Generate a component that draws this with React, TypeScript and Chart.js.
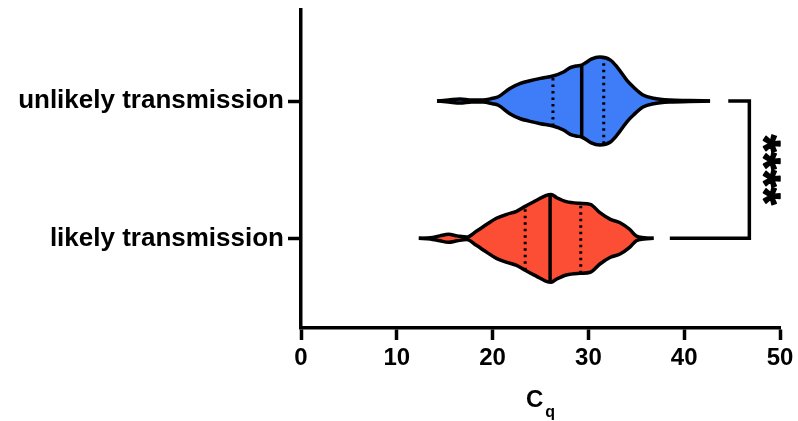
import React, { useEffect, useRef } from "react";
import { Chart, registerables } from "chart.js";

Chart.register(...registerables);

// ---------- data ----------
const categories = ["likely transmission", "unlikely transmission"];
const xTicks = [0, 10, 20, 30, 40, 50];

// violin outline: Cq positions and density half-widths (in category units)
const likelyCq = [12.3, 13.5, 14.5, 15.4, 16.3, 17.3, 18.3, 19.4, 20.4, 21.5, 22.5, 23.4, 24.6, 25.6, 26.1, 26.7, 27.7, 29.1, 30.2, 31.2, 32.3, 33.3, 34.3, 35.0, 35.8, 36.8];
const likelyHalfWidth = [0, 0.004, 0.018, 0.029, 0.018, 0.009, 0.051, 0.102, 0.146, 0.175, 0.197, 0.233, 0.277, 0.313, 0.32, 0.296, 0.267, 0.255, 0.247, 0.187, 0.138, 0.114, 0.066, 0.017, 0.005, 0];
const unlikelyCq = [14.2, 15.4, 16.6, 17.8, 19.0, 20.0, 20.6, 21.8, 22.9, 23.8, 25.0, 26.3, 27.4, 28.1, 28.7, 29.3, 29.8, 30.3, 31.2, 32.3, 33.0, 34.0, 34.7, 35.7, 36.8, 38.5, 40.5, 42.7];
const unlikelyHalfWidth = [0, 0.007, 0.015, 0.007, 0.007, 0.02, 0.031, 0.092, 0.129, 0.146, 0.165, 0.182, 0.211, 0.243, 0.255, 0.262, 0.282, 0.305, 0.32, 0.298, 0.247, 0.153, 0.102, 0.044, 0.02, 0.007, 0.004, 0];

// quartiles [Q1, median, Q3]
const likelyQuartiles = [23.4, 26.0, 29.2];
const unlikelyQuartiles = [26.3, 29.3, 31.6];

// significance bracket
const bracketX = 46.8;
const bracketTopStart = 44.6;
const bracketBottomStart = 38.5;
const significanceLabel = "****";
const significanceX = 49.1;

const colors = ["#fc4e34", "#3e7cf8"];
const FONT = '"Liberation Sans", Arial, Helvetica, sans-serif';
const LW = 3.5;

function halfAt(cq: number[], hw: number[], x: number): number {
  for (let i = 0; i < cq.length - 1; i++) {
    if (x >= cq[i] && x <= cq[i + 1]) {
      const t = (x - cq[i]) / (cq[i + 1] - cq[i]);
      return hw[i] + t * (hw[i + 1] - hw[i]);
    }
  }
  return 0;
}

function violinDatasets(center: number, cq: number[], hw: number[], quart: number[], color: string) {
  const base = {
    showLine: true,
    pointRadius: 0,
    pointHoverRadius: 0,
    borderColor: "#000",
    borderWidth: LW,
    borderJoinStyle: "round" as const,
    clip: false as const,
  };
  const sets: any[] = [
    {
      ...base,
      data: cq.map((x, i) => ({ x, y: center + hw[i] })),
      backgroundColor: color,
      fill: "+1",
      cubicInterpolationMode: "monotone",
    },
    {
      ...base,
      data: cq.map((x, i) => ({ x, y: center - hw[i] })),
      fill: false,
      cubicInterpolationMode: "monotone",
    },
  ];
  quart.forEach((q, k) => {
    const h = halfAt(cq, hw, q);
    sets.push({
      ...base,
      data: [
        { x: q, y: center - h },
        { x: q, y: center + h },
      ],
      fill: false,
      borderWidth: k === 1 ? LW : 3,
      borderDash: k === 1 ? [] : [2.5, 4],
      borderCapStyle: "butt",
    });
  });
  return sets;
}

const textPlugin = {
  id: "extraText",
  afterDraw(chart: any) {
    const { ctx, scales } = chart;
    const x = scales.x;
    const y = scales.y;
    ctx.save();
    ctx.fillStyle = "#000";
    ctx.strokeStyle = "#000";
    // significance stars (rotated)
    ctx.translate(x.getPixelForValue(significanceX), y.getPixelForValue(0.5));
    ctx.rotate(Math.PI / 2);
    ctx.font = `bold 45px ${FONT}`;
    ctx.textAlign = "center";
    ctx.textBaseline = "alphabetic";
    const m = ctx.measureText(significanceLabel);
    const off = (m.actualBoundingBoxAscent - m.actualBoundingBoxDescent) / 2;
    ctx.lineWidth = 1.5;
    ctx.lineJoin = "round";
    ctx.fillText(significanceLabel, 0, off);
    ctx.strokeText(significanceLabel, 0, off);
    ctx.restore();

    // axis title C_q
    ctx.save();
    ctx.fillStyle = "#000";
    ctx.textBaseline = "alphabetic";
    ctx.textAlign = "left";
    ctx.font = `bold 24px ${FONT}`;
    const wC = ctx.measureText("C").width;
    ctx.font = `bold 16px ${FONT}`;
    const wq = ctx.measureText("q").width;
    const cx = (x.left + x.right) / 2;
    const start = cx - (wC + 2 + wq) / 2;
    ctx.font = `bold 24px ${FONT}`;
    ctx.fillText("C", start, 407);
    ctx.font = `bold 16px ${FONT}`;
    ctx.fillText("q", start + wC + 2, 417);
    ctx.restore();
  },
};

export default function App() {
  const ref = useRef<HTMLCanvasElement | null>(null);

  useEffect(() => {
    document.body.style.margin = "0";
    const canvas = ref.current;
    if (!canvas) return;

    const datasets = [
      ...violinDatasets(0, likelyCq, likelyHalfWidth, likelyQuartiles, colors[0]),
      ...violinDatasets(1, unlikelyCq, unlikelyHalfWidth, unlikelyQuartiles, colors[1]),
      {
        showLine: true,
        pointRadius: 0,
        borderColor: "#000",
        borderWidth: LW,
        fill: false,
        clip: false,
        borderCapStyle: "butt",
        data: [
          { x: bracketBottomStart, y: 0 },
          { x: bracketX, y: 0 },
          { x: bracketX, y: 1 },
          { x: bracketTopStart, y: 1 },
        ],
      },
    ];

    const chart = new Chart(canvas, {
      type: "scatter",
      data: { datasets: datasets as any },
      options: {
        responsive: false,
        animation: false,
        devicePixelRatio: 1,
        layout: { padding: { top: 10, right: 18, left: 0, bottom: 0 } },
        plugins: {
          legend: { display: false },
          tooltip: { enabled: false },
          filler: { drawTime: "beforeDatasetsDraw" } as any,
        },
        scales: {
          x: {
            type: "linear",
            min: 0,
            max: 50,
            afterBuildTicks: (s: any) => {
              s.ticks = xTicks.map((v) => ({ value: v }));
            },
            afterFit: (s: any) => {
              s.height = 93;
            },
            grid: {
              drawOnChartArea: false,
              drawTicks: true,
              tickLength: 12,
              tickWidth: LW,
              color: "#000",
            },
            border: { display: true, width: LW, color: "#000" },
            ticks: {
              color: "#000",
              padding: 4,
              maxRotation: 0,
              font: { family: FONT, size: 24, weight: "bold" },
            },
          },
          y: {
            type: "linear",
            min: -0.653,
            max: 1.663,
            afterBuildTicks: (s: any) => {
              s.ticks = categories.map((_, i) => ({ value: i }));
            },
            afterFit: (s: any) => {
              s.width = 301;
              s.paddingTop = 0;
              s.paddingBottom = 0;
            },
            grid: {
              drawOnChartArea: false,
              drawTicks: true,
              tickLength: 13,
              tickWidth: LW,
              color: "#000",
            },
            border: { display: true, width: LW, color: "#000" },
            ticks: {
              color: "#000",
              padding: 4,
              font: { family: FONT, size: 26, weight: "bold" },
              callback: (_v: any, i: number) => categories[i],
            },
          },
        },
      },
      plugins: [textPlugin],
    });

    return () => chart.destroy();
  }, []);

  return (
    <div style={{ position: "relative", width: 798, height: 421 }}>
      <canvas ref={ref} width={798} height={421} />
    </div>
  );
}
